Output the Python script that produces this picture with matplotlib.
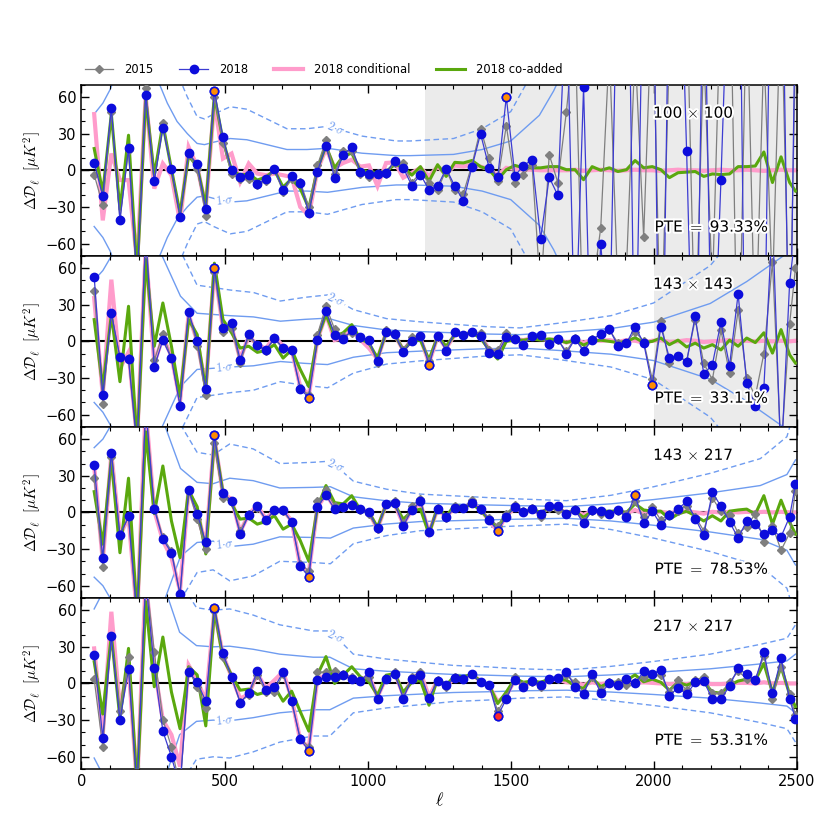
import numpy as np
import matplotlib
matplotlib.use('Agg')
import matplotlib.pyplot as plt
from matplotlib.ticker import MultipleLocator
from matplotlib.lines import Line2D
import matplotlib.patheffects as pe

plt.rcParams['mathtext.fontset'] = 'cm'
plt.rcParams['font.family'] = ['DejaVu Sans']

# multipole bin centres (Delta ell = 30, last bin narrower)
ell = np.append(np.arange(44.5, 2475, 30.0), 2495.0)

# ---------------- 100 x 100 ----------------
p1_2015 = [-3.5, -28.7, 48, -40, 17, -95, 67.5, -9, 38.5, 1, -37, 13, 1, -37, 60, 22, -2.7, -7.4, -7, -12, -9, 1, -17.8, -7, -9.6, -30, 4, 24.6,
           -2.7, 15.6, 15.6, -2.7, -5.5, -2, -2.7, 6, 6, -10,
           -2, -10, -16, 0.5, -16, -19, 4.6, 34, 10, -9, 36.6, -10, -3.5, 4.6, -100, 12.8, -10,
           48, 120, -150, -100, -47, 100, -100, -80, 100, -55, 150, -150, 100, 120, 150, -150, 100, -100, 150, 200, -200, 150, -150, 100, -100, 150, -150, 100]
p1_2018 = [6, -21, 51, -41, 18, -90, 62, -9, 35, 1, -38, 14, 5, -32, 65, 27, 0, -5.5, -4, -11, -7, 1, -16, -5, -10, -35, -1, 20,
           -6, 12.8, 19, -1, -3, -2.7, -2, 8, 2, -12.6,
           -3.5, -16, -13, 1.4, -13, -25, 2.7, 30, 2, -5.7, 60, -4.4, 3.8, 8.7, -56, -5.7, -20.5,
           150, -150, 68, -200, -60, -150, 200, 300, -200, 200, 250, -300, 200, 250, 16, -250, 200, -200, -8, 200, 300, -300, -250, -200, 300, 250, -200, 150]
p1_cond = [46, -41, 13.7, -8, -8, -75, 61, -15, 5.5, -4, -42, 19, 3, -30, 56, 9.6, 13.7, -9.6, 5.5, -2.7, -4, -2.7, -4, -5.5, -30, -37, 0, 17.8,
           2, 6, 8.7, 3, 4, -13, 6, 6.5, -6, -2,
           2, -5, 3, -3, 4, 3, 5, 3, 1, -4, 2, 1, 0.5, 0.5, 0, 0, 0,
           0, 0.5, -0.5, 0, 0.5, 0, -0.5, 0, 0.5, 0, 0, -0.5, 0, 0.5, 0, 0, -0.5, 0, 0.5, 0, 0, 0.5, 0, -0.5, 0, 0.5, 0, 0]
p1_coadd = [17.8, -18, 46, -32, 28.7, -85, 59, -4, 38, 1, -35, 12, 3, -29, 61, 24.6, 0, -4, -3, -8, -5.5, 0, -13.7, -7, -15, -31, 1, 20,
            2, 11.5, 14, 0, -1, -2, -1, 4.6, 2.7, -4,
            3, -9, 4.6, -5, 6.5, 6, 8, 3, 0.5, -7.7, 0.5, 4, 2, 2, 2, 3, 3,
            0.5, 0.5, -7.7, 3, 0, 2, -1, 0.5, 8, 2, 3, 0.5, -6, -2, -1.5, -1, -5, -3, -3.5, -3, 3, 3, 3.5, 15, -10, 11, -10, -17]
p1_sig_ell = [44.5, 75, 100, 110, 150, 200, 250, 270, 300, 334, 370, 404, 430, 462, 520, 578, 648, 718, 788, 860, 980, 1100, 1150, 1300, 1400, 1500, 1600, 1650, 1700, 1800, 2000, 2500]
p1_sig = [46, 55, 66, 72, 95, 100, 85, 72, 55, 40, 30, 22, 21, 23, 26, 25, 21, 17, 17, 18, 14, 12, 12, 13, 17, 24, 45, 65, 90, 150, 400, 2000]
p1_hi = [14, 48]

# ---------------- 143 x 143 ----------------
p2_2015 = [41.5, -51, 22, -13, -14, -90, 90, -15.6, 6, -14, -52, 24, -3.5, -44, 57, 7.4, 11, -17.8, 4, -4, -8, 2, -6, -8, -38, -44, 5.5, 28.7,
           10, 4, 7, 2.7, 0, -18, 9, 7, -7, 3.5, 4.6, -16.4, 4.6, -6.3, 7.4, 5.5, 7.4, 7, -7, -7.4, 7, 2.7, -2, 4.6, 4, -2.7, 1, -8,
           2.7, -7, 2, 5.5, 9.6, -1.4, -1, 8, 0, -31, 16.4, -18, -12, -16, 17.8, -18, -31.4, 9, -26, 25.4, -30, -45, -10, 65, -90, 14.5, 60]
p2_2018 = [53, -44, 23, -13, -14.5, -85, 85, -21, 1, -14, -53, 24, 0.5, -39, 60, 11, 15, -15, 6, -3, -7, 2.7, -5.5, -7, -39, -46, 1, 24.6,
           5.5, 2, 9, 3.5, 1, -16.4, 8, 6, -9, 0, 4.6, -19.7, 4.6, -7.7, 8, 5.5, 7.7, 4, -9.6, -10, 3.5, 2, -2.7, 4.6, 5, -2, 2, -10,
           2, -8, 1.4, 6, 10, -3.5, -1.4, 12, -1.4, -36, 12, -13.7, -11.7, -17, 20.5, -26.8, -19, 15.6, -20, 38.8, -34, -53, -38, 100, -100, 48, 90]
p2_cond = [35.5, -44, 50.5, -22, -9, -80, 75, -18, 3.5, -12, -49, 22, 0, -37, 59, 11, 12, -14.5, 4, -2.7, -6, 4, -4, -7, -37, -44, 1.4, 22,
           1, 2.7, 9.6, 1.4, -5.5, -14.5, 7, 5.5, -7.4, 1.4, 2.7, -17.8, 4, -5.5, 5.5, 5.5, 7, 4, -6.3, -9.6, 2, 2, 1, 2.7, 2, 1, 2, -1,
           1, -1, 1, 0.5, 1, -0.5, 1, 0.5, -1, 0.5, 1, -0.5, 0, 1, 0.5, -0.5, 0, 0.5, 1, 0, 0.5, 0, 0.5, 0, 0.5, 0, 0.5]
p2_coadd = [17.8, -38, 22, -33, 28.7, -85, 67, -4, 31.4, -4, -45, 17.8, 5.5, -40, 64, 17.8, 7, -5.5, -4, -9, -7.4, -2.7, -13.7, -7, -23, -37, 2.7, 22,
            4, 7, 13.7, 2, -1.4, -13.7, 7, 5.5, -7, 0, 1, -15, 4, -4, 5.5, 6, 7, 2.7, -7, -14.5, 0, 1, 1, 2, 1, 2, 1, -1,
            1, -3, 0, 1, 0, -1, 0, 3, -1, 0, 2.7, -2.7, 1, -4.6, -1.5, -5.5, -2.7, -7, 1, -4, 2.7, -1, 7, -9.6, 9.6, -11, -17.8]
p2_sig_ell = [44.5, 75, 100, 110, 150, 200, 250, 278, 346, 404, 462, 520, 601, 695, 780, 860, 950, 1066, 1183, 1299, 1416, 1532, 1672, 1850, 1999, 2197, 2325, 2465, 2500]
p2_sig = [50, 58, 68, 72, 95, 100, 85, 72, 37, 23, 22, 21, 20, 16.5, 18, 19, 13, 9.3, 8, 7, 6, 5.5, 7.5, 10.5, 15.7, 31, 49, 72, 80]
p2_hi = [14, 25, 39, 65]

# ---------------- 143 x 217 ----------------
p3_2015 = [28, -44.5, 45.6, -18, -4, -90, 90, 4.6, -20.5, -31.4, -67, 17.8, -5.5, -30, 57, 12, 9, -15, -1.4, 4, -6, 1, 1, -8, -42, -48, 9, 18,
           5.5, 3.5, 6.8, 2, -1.4, -13.7, 7, 9, -9, 5.5, 11, -15, 3.5, -4.6, 5.5, 4, 10, 2, -4.6, -11, -1.4, 6.3, 0.8, 4, -4, 4, 2, -1,
           2.7, -7, 1, -1, -1.4, 1, -1.4, 9, -4, 4.6, -6.3, -1, 1, 5.5, -3.5, -15, 11.7, 1, -2, -17, -11.7, -1, -24, -11, -31, -17, 17.8]
p3_2018 = [39, -37.4, 49, -18.6, -3.3, -85, 85, 2.7, -22, -33, -67, 18, -1, -24.6, 63, 16, 9, -17.8, -2, 5.5, -6, 2, 2, -7.7, -43.7, -53, 4.6, 14,
           2.7, 4.6, 6.3, 2.7, 0.5, -13, 7, 7.4, -11, 2, 9, -15.8, 2.7, -4, 3.5, 3.5, 8, 2.7, -6.3, -15, -3.5, 4.6, 0, 2.7, -1.4, 5.5, 5.5, -1,
           2, -9, 2, 1, -1, 2, -3.5, 14, -9, 1, -10, -2, 2.7, 9, -5, -18.6, 16.4, 5, -7.7, -21, -7, -9.6, -17.8, -14.5, -20, -3.5, 23]
p3_cond = [38, -40, 48, -19, -4, -85, 85, 1.4, -23, -37, -64, 19, 0, -27, 61, 15, 11, -16, -1.4, 5.5, -5.5, 2, 2, -7, -43.7, -49, 4, 15,
           4, 4, 8, 2.7, 0, -13.7, 6.8, 6.8, -9.6, 2, 7.4, -16.4, 2.7, -4, 4.6, 4, 7.4, 2.7, -7, -15, -2.7, 3.5, 0, 2, -0.8, 4, 2.7, 0,
           1, -2, 1, 0.5, 0, 1, -0.5, 2, -1, 0.5, 0.5, -0.5, 0.5, 1, 0, -1, 0.5, 0, 0.5, 0, 0.5, 0, 0.5, 0, 0.5, 0, 0]
p3_coadd = [17, -26, 44, -33, 28, -85, 66, -1, 38, -7, -37, 18, 4.6, -34, 60, 16.4, 7, -5.5, -4.6, -9.6, -7.4, -2.7, -13.7, -9.6, -23, -40, 4, 22,
            8, 7, 13.7, 2, 0, -12, 6.3, 6.3, -5.5, 1, 2.7, -17.8, 4.6, -3.5, 6.3, 4, 6.8, 2, -6.3, -12, -1.4, 4, 0, 2.7, 0, 3.5, 2.7, 0,
            1, -4, 1, 1, 1, 1, 0, 7, 2, 1, 1, -5.5, -1.4, 1, -2.7, -7, -2.7, -7, 1, 2, 2.7, -1.4, 13.7, -9.6, 10, -8, -17.8]
p3_sig_ell = [44.5, 75, 100, 110, 150, 200, 250, 290, 346, 404, 460, 518, 600, 693, 810, 870, 950, 1066, 1183, 1299, 1416, 1532, 1695, 1850, 1999, 2197, 2372, 2465, 2495]
p3_sig = [53, 60, 70, 75, 95, 100, 85, 72, 36, 24.6, 23.5, 28, 26, 20, 20.5, 21, 12.8, 9.5, 7.5, 6.8, 6.1, 5.5, 4.8, 7, 10.5, 16, 22, 31, 43]
p3_hi = [14, 25, 47, 63]

# ---------------- 217 x 217 ----------------
p4_2015 = [3.5, -52, 38, -22.7, 22, -90, 90, 26, -29.5, -52, -85, 11, -2.7, -20, 59, 22, 4.6, -15, -9.6, 7, -7, -7, 8, -15, -45, -52, 9, 9.6,
           10, 7.4, 5.5, 2.7, 5.5, -12.3, 4, 9.6, -11, 5.5, 9, -12.8, 2.7, -2.7, 5.5, 4, 8, 1, -1, -22.7, -11, 5.5, -1, 1, -2.7, 4, 4, 6.8,
           1, -7, 5.5, -5.5, 1, 1.4, -1, 1, 5.5, 6.8, 7, -7, 2.7, -5.5, 2.7, 5.5, -8, -8, 1, 10, 4, 2.7, 22.7, -12.3, 13.7, -9, -26]
p4_2018 = [23, -44.5, 38.8, -30, 11.5, -85, 85, 12.8, -39, -60, -85, 9.6, 1, -14.5, 62, 24.6, 5.5, -15.6, -8, 10, -5.2, -3, 9, -14.5, -45.6, -55, 2.7, 5,
           5.5, 6.8, 3.5, 2, 9, -12.3, 4, 8, -12.3, 4, 6.8, -11.7, 2, -1.4, 4.6, 3.5, 7.4, 1, -1.4, -26.5, -12.8, 2.7, -2.7, 2, -1.4, 3.5, 4.6, 9.6,
           -2.7, -8.5, 8, -8, 0, -1.4, 3.5, 0, 10, 8, 11, -10, -3.3, -9, 1, 2, -12.8, -12.8, -2, 12.8, 7.4, 2.7, 25.4, -8.2, 20.5, -12.8, -29]
p4_cond = [28.7, -42, 58.7, -20.5, 15, -85, 85, 13.7, -30, -42, -68, 15, 2.7, -14.5, 60, 23, 5.5, -12.3, -9, 8, -4, 2.7, 9.6, -12.3, -46.4, -52, 4, 6.8,
           8, 6.8, 4.6, 2, 6.8, -11, 4.6, 9, -9.6, 3.5, 9, -11, 2.7, -2, 4.6, 4.6, 7.4, 2, -2, -15, -9.6, 2.7, -2, 1, -1, 2.7, 3.5, 1,
           0.5, -1, 1, -0.5, 0.5, 0, 1, 0.5, 1, 0.5, 0, -0.5, 0, -0.5, 0.5, 0, -0.5, -0.5, 0, 0.5, 0.5, 0, 1, 0, 0.5, 0, 0]
p4_coadd = [17.8, -25, 39.6, -28.7, 28.7, -85, 67, -2.7, 38, -7, -37, 13.7, 7, -34.7, 60, 20.5, 7, -5.5, -4.6, -9, -7, -2.7, -14.5, -6.3, -23, -39, 7, 22,
            0, 6.8, 13.7, 5.5, 1.4, -9.6, 6.8, 8, -7, 1, 2.7, -17.8, 4, -1.4, 6.3, 5.5, 7.4, 2, -1.4, -16.4, -7, 4, 1, 2, 1, 3.5, 3.5, 2.7,
            -2, -4, 4.6, -2.7, 1, 1, 2.7, 7, 1.4, 3.5, 1, -5.5, 1, -1.4, 1.4, 1, -7, -8, -1.4, 2, 3.5, 2.7, 16.4, -7.4, 13.7, -9, -19]
p4_sig_ell = [44.5, 60, 75, 110, 150, 200, 250, 300, 343, 402, 460, 518, 600, 693, 810, 868, 950, 1066, 1183, 1299, 1416, 1532, 1695, 1850, 1999, 2197, 2372, 2465, 2495]
p4_sig = [61, 68, 75, 90, 100, 100, 90, 72, 42, 31, 30, 30.5, 28, 24, 21.5, 21.5, 12, 10, 8.7, 7.4, 6.8, 6, 5.5, 7, 9, 12, 16, 18.5, 24]
p4_hi = [14, 25, 47]

spectra = ['100 $\\times$ 100', '143 $\\times$ 143', '143 $\\times$ 217', '217 $\\times$ 217']
ptes = ['93.33%', '33.11%', '78.53%', '53.31%']
shade_from = [1200, 2000, None, None]

panels = [
    (p1_2015, p1_2018, p1_cond, p1_coadd, p1_sig_ell, p1_sig, p1_hi),
    (p2_2015, p2_2018, p2_cond, p2_coadd, p2_sig_ell, p2_sig, p2_hi),
    (p3_2015, p3_2018, p3_cond, p3_coadd, p3_sig_ell, p3_sig, p3_hi),
    (p4_2015, p4_2018, p4_cond, p4_coadd, p4_sig_ell, p4_sig, p4_hi),
]

C_GRAY = '#7f7f7f'
C_BLUE = '#0c0cdc'
C_BLUE_LINE = '#3c3cd2'
C_PINK = '#ff9ccb'
C_GREEN = '#5aa80e'
C_SIG = '#6f9cf0'

fig = plt.figure(figsize=(8.31, 8.31), dpi=100)
gs = fig.add_gridspec(4, 1, left=0.098, right=0.959, top=0.898, bottom=0.0746, hspace=0)
axes = [fig.add_subplot(gs[i]) for i in range(4)]

stroke = [pe.withStroke(linewidth=3, foreground='white')]

for i, ax in enumerate(axes):
    d15, d18, dcond, dco, sel, sig, hi = panels[i]
    d15 = np.array(d15, float); d18 = np.array(d18, float)
    dcond = np.array(dcond, float); dco = np.array(dco, float)
    sel = np.array(sel, float); sig = np.array(sig, float)

    if shade_from[i] is not None:
        ax.axvspan(shade_from[i], 2500, color='#ebebeb', zorder=0, lw=0)

    ax.plot(sel, sig, color=C_SIG, lw=1.0, zorder=1)
    ax.plot(sel, -sig, color=C_SIG, lw=1.0, zorder=1)
    ax.plot(sel, 2 * sig, color=C_SIG, lw=1.0, ls='--', dashes=(4, 2.5), zorder=1)
    ax.plot(sel, -2 * sig, color=C_SIG, lw=1.0, ls='--', dashes=(4, 2.5), zorder=1)

    # sigma labels
    l1 = 500.0
    ax.text(l1, -np.interp(l1, sel, sig), r'$1{\cdot}\sigma$', color=C_SIG, fontsize=9,
            ha='center', va='center', rotation=6, zorder=1.2,
            bbox=dict(facecolor='white', edgecolor='none', pad=0.3))
    l2 = 890.0
    ax.text(l2, 2 * np.interp(l2, sel, sig), r'$2{\cdot}\sigma$', color=C_SIG, fontsize=9,
            ha='center', va='center', rotation=-24, zorder=1.2,
            bbox=dict(facecolor='white', edgecolor='none', pad=0.3))

    ax.axhline(0, color='black', lw=1.5, zorder=1.5)

    ax.plot(ell, dcond, color=C_PINK, lw=3.0, zorder=2, solid_joinstyle='miter')
    ax.plot(ell, dco, color=C_GREEN, lw=2.2, zorder=3)
    ax.plot(ell, d15, color=C_GRAY, lw=0.9, marker='D', ms=3.6, mec=C_GRAY, mfc=C_GRAY, zorder=4)
    ax.plot(ell, d18, color=C_BLUE_LINE, lw=0.9, zorder=5)
    ax.plot(ell, d18, ls='none', marker='o', ms=6, mfc=C_BLUE, mec=C_BLUE, zorder=5.5)
    for k in hi:
        fc = '#ff2a2a' if (i == 3 and k == 47) else '#ff8c00'
        ax.plot(ell[k], d18[k], ls='none', marker='o', ms=6, mfc=fc, mec=C_BLUE, mew=1.2, zorder=6)

    ax.text(0.799, 0.836, spectra[i], transform=ax.transAxes, fontsize=11, ha='left', va='center',
            zorder=8, path_effects=stroke)
    ax.text(0.801, 0.17, 'PTE $=$ ' + ptes[i], transform=ax.transAxes, fontsize=11, ha='left', va='center',
            zorder=8, path_effects=stroke)

    ax.set_xlim(0, 2500)
    ax.set_ylim(-70, 70)
    ax.set_yticks([-60, -30, 0, 30, 60])
    ax.yaxis.set_minor_locator(MultipleLocator(10))
    ax.xaxis.set_major_locator(MultipleLocator(500))
    ax.xaxis.set_minor_locator(MultipleLocator(100))
    ax.tick_params(which='both', direction='in', top=True, right=True, labelsize=10.5)
    ax.tick_params(which='major', length=6, width=1.0)
    ax.tick_params(which='minor', length=3, width=0.8)
    ax.set_ylabel(r'$\Delta\mathcal{D}_\ell\ \ [\mu K^2]$', fontsize=11, labelpad=2)
    for s in ax.spines.values():
        s.set_linewidth(1.1)
    if i < 3:
        ax.tick_params(labelbottom=False)
    else:
        ax.set_xlabel(r'$\ell$', fontsize=13, labelpad=2)

handles = [
    Line2D([], [], color=C_GRAY, lw=0.9, marker='D', ms=3.6),
    Line2D([], [], color=C_BLUE_LINE, lw=0.9, marker='o', ms=6, mfc=C_BLUE, mec=C_BLUE),
    Line2D([], [], color=C_PINK, lw=3.0),
    Line2D([], [], color=C_GREEN, lw=2.2),
]
labels = ['2015', '2018', '2018 conditional', '2018 co-added']
fig.legend(handles, labels, loc='center left', bbox_to_anchor=(0.092, 0.916), ncol=4, frameon=False,
           fontsize=8.3, handlelength=2.5, columnspacing=2.3, handletextpad=0.9, borderpad=0.2)

fig.savefig('out.png', dpi=100)
